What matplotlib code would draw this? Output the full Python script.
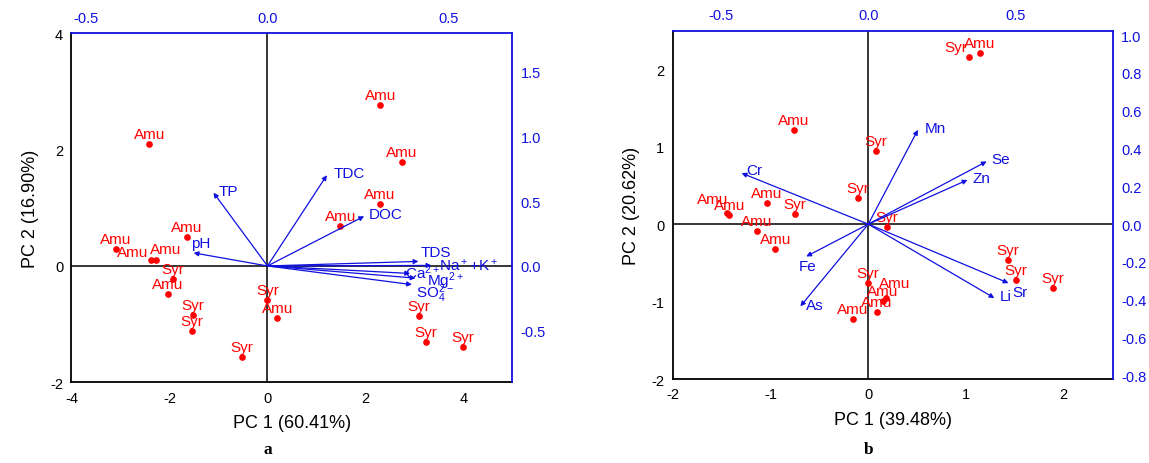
import matplotlib
matplotlib.use("Agg")
import matplotlib.pyplot as plt

plt.rcParams['font.family'] = ['Liberation Sans', 'DejaVu Sans']
plt.rcParams['mathtext.default'] = 'regular'
plt.rcParams['axes.unicode_minus'] = False

RED = '#ff0000'
BLUE = '#1010e0'

# ---- panel a: sample scores (PC1, PC2) ----
a_site = ['Amu', 'Amu', 'Amu', 'Amu', 'Amu', 'Syr', 'Amu', 'Syr', 'Syr', 'Syr',
          'Syr', 'Amu', 'Amu', 'Amu', 'Amu', 'Amu', 'Syr', 'Syr', 'Syr']
a_pc1 = [-2.41, -1.65, -3.10, -2.38, -2.28, -1.93, -2.04, -1.52, -1.54, -0.52,
         0.00, 0.20, 2.30, 2.74, 2.29, 1.49, 3.09, 3.24, 3.99]
a_pc2 = [2.09, 0.49, 0.29, 0.10, 0.10, -0.22, -0.48, -0.84, -1.12, -1.56,
         -0.59, -0.90, 2.76, 1.78, 1.06, 0.68, -0.86, -1.31, -1.39]
# variable loadings
a_var = ['TP', 'pH', 'TDC', 'DOC', 'TDS', 'Na$^+$+K$^+$', 'Ca$^{2+}$', 'Mg$^{2+}$', 'SO$_4^{2-}$']
a_ld1 = [-0.149, -0.204, 0.164, 0.267, 0.417, 0.453, 0.394, 0.409, 0.399]
a_ld2 = [0.566, 0.101, 0.701, 0.384, 0.035, 0.004, -0.058, -0.094, -0.144]

# ---- panel b ----
b_site = ['Amu', 'Syr', 'Syr', 'Amu', 'Syr', 'Amu', 'Amu', 'Amu', 'Syr', 'Amu',
          'Syr', 'Amu', 'Syr', 'Amu', 'Amu', 'Amu', 'Amu', 'Syr', 'Syr', 'Syr']
b_pc1 = [-0.76, 0.08, -0.11, -1.04, -0.75, -1.44, -1.42, -1.14, 0.19, -0.95,
         1.03, 1.14, 0.00, 0.18, 0.15, 0.09, -0.16, 1.43, 1.51, 1.89]
b_pc2 = [1.21, 0.94, 0.34, 0.27, 0.13, 0.15, 0.12, -0.09, -0.04, -0.32,
         2.16, 2.21, -0.76, -0.96, -0.99, -1.13, -1.23, -0.46, -0.72, -0.83]
b_var = ['Cr', 'Mn', 'Se', 'Zn', 'Fe', 'As', 'Sr', 'Li']
b_ld1 = [-0.429, 0.168, 0.401, 0.336, -0.210, -0.230, 0.475, 0.427]
b_ld2 = [0.270, 0.499, 0.332, 0.234, -0.171, -0.435, -0.312, -0.391]

# label placement (pixels, label centre relative to mark)
a_site_off = {3: (-18, 8), 4: (10, 11)}
a_var_off = [(15, 2), (7, 10), (22, 2), (22, 2), (17, 9), (37, 1), (13, 2), (30, -2), (23, -8)]
b_site_off = {5: (-15, 14), 10: (-13, 10), 13: (9, 15)}
b_var_off = [(13, 3), (17, 2), (14, 2), (14, 2), (1, -10), (14, 1), (11, -9), (11, 2)]


def biplot(fig, rect, site, pc1, pc2, site_off, var, ld1, ld2, var_off,
           xlim, ylim, sx, sy, xticks, yticks, tticks, rticks, xlabel, ylabel, tag, tag_y):
    ax = fig.add_axes(rect)
    ax.set_xlim(*xlim)
    ax.set_ylim(*ylim)
    ax.set_xticks(xticks)
    ax.set_yticks(yticks)
    ax.tick_params(length=0, labelsize=10.5, pad=6)
    for s in ['top', 'right']:
        ax.spines[s].set_visible(False)
    for s in ['left', 'bottom']:
        ax.spines[s].set_linewidth(1.3)
    ax.axhline(0, color='black', lw=1.1, zorder=1)
    ax.axvline(0, color='black', lw=1.1, zorder=1)
    ax.plot(pc1, pc2, 'o', color=RED, ms=3.8, ls='none', zorder=3)
    for i, name in enumerate(site):
        dx, dy = site_off.get(i, (0, 10))
        ax.annotate(name, (pc1[i], pc2[i]), xytext=(dx, dy), textcoords='offset pixels',
                    ha='center', va='center', color=RED, fontsize=11, zorder=4)
    ax.set_xlabel(xlabel, fontsize=13, labelpad=7)
    ax.set_ylabel(ylabel, fontsize=13, labelpad=8)
    ax.text(0, tag_y, tag, transform=ax.get_xaxis_transform(), ha='center', va='center',
            fontsize=12.5, fontweight='bold', family='Liberation Serif')

    # loading axes on top / right
    axl = fig.add_axes(rect, facecolor='none')
    axl.set_xlim(xlim[0] / sx, xlim[1] / sx)
    axl.set_ylim(ylim[0] / sy, ylim[1] / sy)
    axl.xaxis.tick_top()
    axl.yaxis.tick_right()
    axl.set_xticks(tticks)
    axl.set_yticks(rticks)
    axl.xaxis.set_major_formatter('{x:.1f}')
    axl.yaxis.set_major_formatter('{x:.1f}')
    axl.tick_params(length=0, labelsize=10.5, pad=6, colors=BLUE)
    for s in ['left', 'bottom']:
        axl.spines[s].set_visible(False)
    for s in ['top', 'right']:
        axl.spines[s].set_color(BLUE)
        axl.spines[s].set_linewidth(1.3)
    for i, name in enumerate(var):
        axl.annotate('', xy=(ld1[i], ld2[i]), xytext=(0, 0),
                     arrowprops=dict(arrowstyle='-|>', color=BLUE, lw=0.9,
                                     mutation_scale=7, shrinkA=0, shrinkB=0))
        axl.annotate(name, (ld1[i], ld2[i]), xytext=var_off[i], textcoords='offset pixels',
                     ha='center', va='center', color=BLUE, fontsize=11)
    return ax, axl


fig = plt.figure(figsize=(11.49, 4.64), dpi=100)

biplot(fig, [0.0622, 0.174, 0.3838, 0.752], a_site, a_pc1, a_pc2, a_site_off,
       a_var, a_ld1, a_ld2, a_var_off, (-4, 5), (-2, 4), 7.39, 2.227,
       [-4, -2, 0, 2, 4], [-2, 0, 2, 4], [-0.5, 0.0, 0.5], [-0.5, 0.0, 0.5, 1.0, 1.5],
       'PC 1 (60.41%)', 'PC 2 (16.90%)', 'a', -0.19)

biplot(fig, [0.5855, 0.181, 0.3829, 0.751], b_site, b_pc1, b_pc2, b_site_off,
       b_var, b_ld1, b_ld2, b_var_off, (-2, 2.5), (-2, 2.5), 3.02, 2.44,
       [-2, -1, 0, 1, 2], [-2, -1, 0, 1, 2], [-0.5, 0.0, 0.5],
       [-0.8, -0.6, -0.4, -0.2, 0.0, 0.2, 0.4, 0.6, 0.8, 1.0],
       'PC 1 (39.48%)', 'PC 2 (20.62%)', 'b', -0.2)

fig.savefig('out.png', dpi=100)
